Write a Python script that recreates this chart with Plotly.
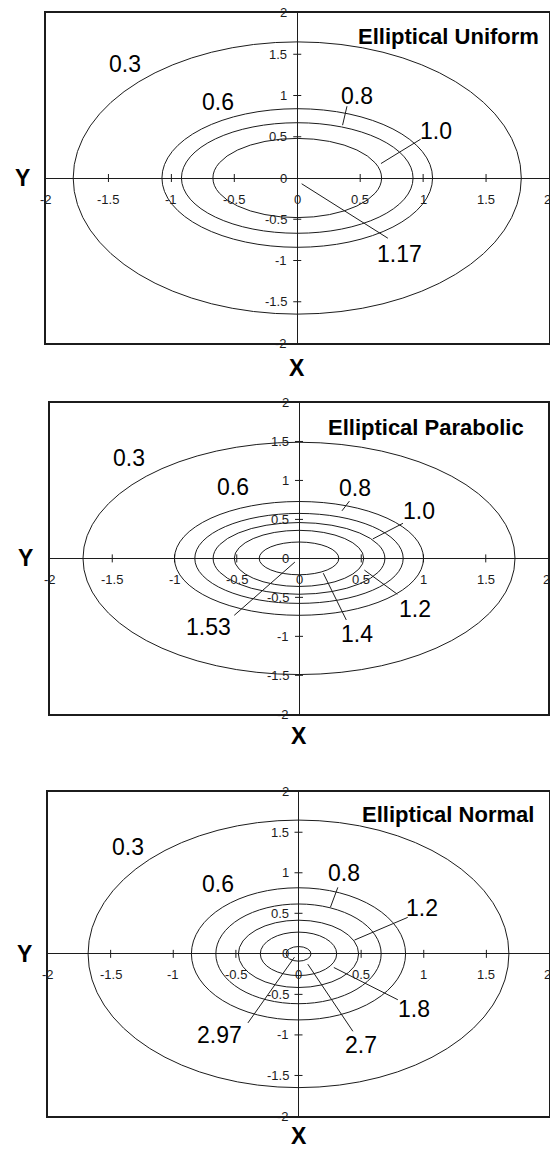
import plotly.graph_objects as go

# ---- contour data for the three elliptical distributions ----
titles = ["Elliptical Uniform", "Elliptical Parabolic", "Elliptical Normal"]

levels_uniform = [0.3, 0.6, 0.8, 1.0]
semi_x_uniform = [1.78, 1.075, 0.92, 0.67]
semi_y_uniform = [1.65, 0.84, 0.67, 0.48]
peak_uniform = 1.17

levels_parabolic = [0.3, 0.6, 0.8, 1.0, 1.2, 1.4]
semi_x_parabolic = [1.735, 1.0, 0.837, 0.69, 0.52, 0.32]
semi_y_parabolic = [1.49, 0.73, 0.577, 0.46, 0.36, 0.21]
peak_parabolic = 1.53

levels_normal = [0.3, 0.6, 0.8, 1.2, 1.8, 2.7]
semi_x_normal = [1.68, 0.855, 0.66, 0.48, 0.305, 0.10]
semi_y_normal = [1.65, 0.815, 0.615, 0.415, 0.268, 0.09]
peak_normal = 2.97

tick_values = [-2, -1.5, -1, -0.5, 0, 0.5, 1, 1.5, 2]
tick_labels = ["-2", "-1.5", "-1", "-0.5", "0", "0.5", "1", "1.5", "2"]

# ---- layout helpers (placement of labels, leaders, panel boxes) ----
W, H = 550, 1151

# panel boxes in pixels: left, right, top, bottom
boxes = [(45.5, 549.0, 13.0, 343.0),
         (50.0, 548.0, 402.5, 714.3),
         (48.0, 549.0, 791.7, 1116.0)]

# label text position and optional leader line (start, end) per contour
label_place = [
    [(-1.366, 1.382, None), (-0.63, 0.924, None),
     (0.473, 0.993, (0.395, 0.87, 0.36, 0.64)),
     (1.104, 0.572, (0.98, 0.47, 0.665, 0.175))],
    [(-1.366, 1.283, None), (-0.532, 0.92, None),
     (0.453, 0.907, (0.405, 0.735, 0.345, 0.61)),
     (0.967, 0.607, (0.835, 0.45, 0.593, 0.25)),
     (0.928, -0.646, (0.79, -0.46, 0.525, -0.15)),
     (0.467, -0.975, (0.38, -0.79, 0.195, -0.19))],
    [(-1.36, 1.317, None), (-0.645, 0.856, None),
     (0.365, 1.0, (0.314, 0.82, 0.255, 0.575)),
     (0.982, 0.56, (0.872, 0.45, 0.447, 0.17)),
     (0.92, -0.675, (0.793, -0.566, 0.282, -0.168)),
     (0.5, -1.128, (0.434, -0.955, 0.074, -0.127))],
]
peak_place = [
    (0.812, -0.92, (0.72, -0.73, 0.035, -0.07)),
    (-0.727, -0.877, (-0.52, -0.73, -0.033, -0.047)),
    (-0.631, -0.996, (-0.404, -0.852, -0.032, -0.041)),
]
title_place = [(0.467, 1.713), (0.217, 1.68), (0.491, 1.725)]
xlabel_shift = [-25, -22, -20]
ylabel_shift = [-23, -25, -24]

panels = [
    (levels_uniform, semi_x_uniform, semi_y_uniform, peak_uniform),
    (levels_parabolic, semi_x_parabolic, semi_y_parabolic, peak_parabolic),
    (levels_normal, semi_x_normal, semi_y_normal, peak_normal),
]

INK = "#1c1c1c"
FONT = "Liberation Sans, Arial, sans-serif"

fig = go.Figure()
shapes = []
annotations = []
layout_axes = {}

for i, (levels, sx, sy, peak) in enumerate(panels):
    n = "" if i == 0 else str(i + 1)
    xr, yr = "x" + n, "y" + n
    l, r, t, b = boxes[i]
    axis_common = dict(range=[-2, 2], showgrid=False, showticklabels=False,
                       ticks="", zeroline=True, zerolinecolor=INK,
                       zerolinewidth=1, showline=True, mirror=True,
                       linecolor=INK, linewidth=1.5, fixedrange=True)
    layout_axes["xaxis" + n] = dict(axis_common, domain=[l / W, r / W],
                                    anchor=yr)
    layout_axes["yaxis" + n] = dict(axis_common,
                                    domain=[(H - b) / H, (H - t) / H],
                                    anchor=xr)

    # invisible anchor trace so the subplot is drawn
    fig.add_trace(go.Scatter(x=[0], y=[0], mode="markers",
                             marker=dict(size=1, opacity=0),
                             xaxis=xr, yaxis=yr, hoverinfo="skip",
                             showlegend=False))

    # contour ellipses
    for a, c in zip(sx, sy):
        shapes.append(dict(type="circle", xref=xr, yref=yr,
                           x0=-a, x1=a, y0=-c, y1=c,
                           line=dict(color=INK, width=1)))

    # tick marks crossing the axes
    for v in tick_values:
        if abs(v) in (0, 2):
            continue
        shapes.append(dict(type="line", xref=xr, yref=yr, x0=v, x1=v,
                           ysizemode="pixel", yanchor=0, y0=-4, y1=4,
                           line=dict(color=INK, width=1)))
        shapes.append(dict(type="line", xref=xr, yref=yr, y0=v, y1=v,
                           xsizemode="pixel", xanchor=0, x0=-4, x1=4,
                           line=dict(color=INK, width=1)))

    # tick labels along the axes
    for v, s in zip(tick_values, tick_labels):
        # the rightmost x label sits just inside the page edge
        xa, xs = ("right", 4) if v == 2 else ("center", 0)
        annotations.append(dict(x=v, y=0, xref=xr, yref=yr, text=s,
                                showarrow=False, yshift=-21,
                                xanchor=xa, xshift=xs,
                                font=dict(size=13, color=INK, family=FONT)))
        annotations.append(dict(x=0, y=v, xref=xr, yref=yr, text=s,
                                showarrow=False, xanchor="right", xshift=-8,
                                font=dict(size=13, color=INK, family=FONT)))

    # contour value labels and leaders
    for lev, (tx, ty, lead) in zip(levels, label_place[i]):
        annotations.append(dict(x=tx, y=ty, xref=xr, yref=yr,
                                text=f"{lev:.1f}", showarrow=False,
                                font=dict(size=23, color="#000", family=FONT)))
        if lead:
            shapes.append(dict(type="line", xref=xr, yref=yr,
                               x0=lead[0], y0=lead[1], x1=lead[2], y1=lead[3],
                               line=dict(color=INK, width=1)))
    tx, ty, lead = peak_place[i]
    annotations.append(dict(x=tx, y=ty, xref=xr, yref=yr, text=f"{peak}",
                            showarrow=False,
                            font=dict(size=23, color="#000", family=FONT)))
    shapes.append(dict(type="line", xref=xr, yref=yr,
                       x0=lead[0], y0=lead[1], x1=lead[2], y1=lead[3],
                       line=dict(color=INK, width=1)))

    # panel title
    annotations.append(dict(x=title_place[i][0], y=title_place[i][1],
                            xref=xr, yref=yr, text=f"<b>{titles[i]}</b>",
                            showarrow=False, xanchor="left",
                            font=dict(size=22, color="#000", family=FONT)))

    # axis letters
    annotations.append(dict(x=0, y=-2, xref=xr, yref=yr, text="<b>X</b>",
                            showarrow=False, yshift=xlabel_shift[i],
                            font=dict(size=23, color="#000", family=FONT)))
    annotations.append(dict(x=-2, y=0, xref=xr, yref=yr, text="<b>Y</b>",
                            showarrow=False, xshift=ylabel_shift[i],
                            font=dict(size=23, color="#000", family=FONT)))

fig.update_layout(
    width=W, height=H,
    margin=dict(l=0, r=0, t=0, b=0),
    paper_bgcolor="white", plot_bgcolor="white",
    showlegend=False,
    shapes=shapes, annotations=annotations,
    **layout_axes,
)

fig.write_html("out.html")
